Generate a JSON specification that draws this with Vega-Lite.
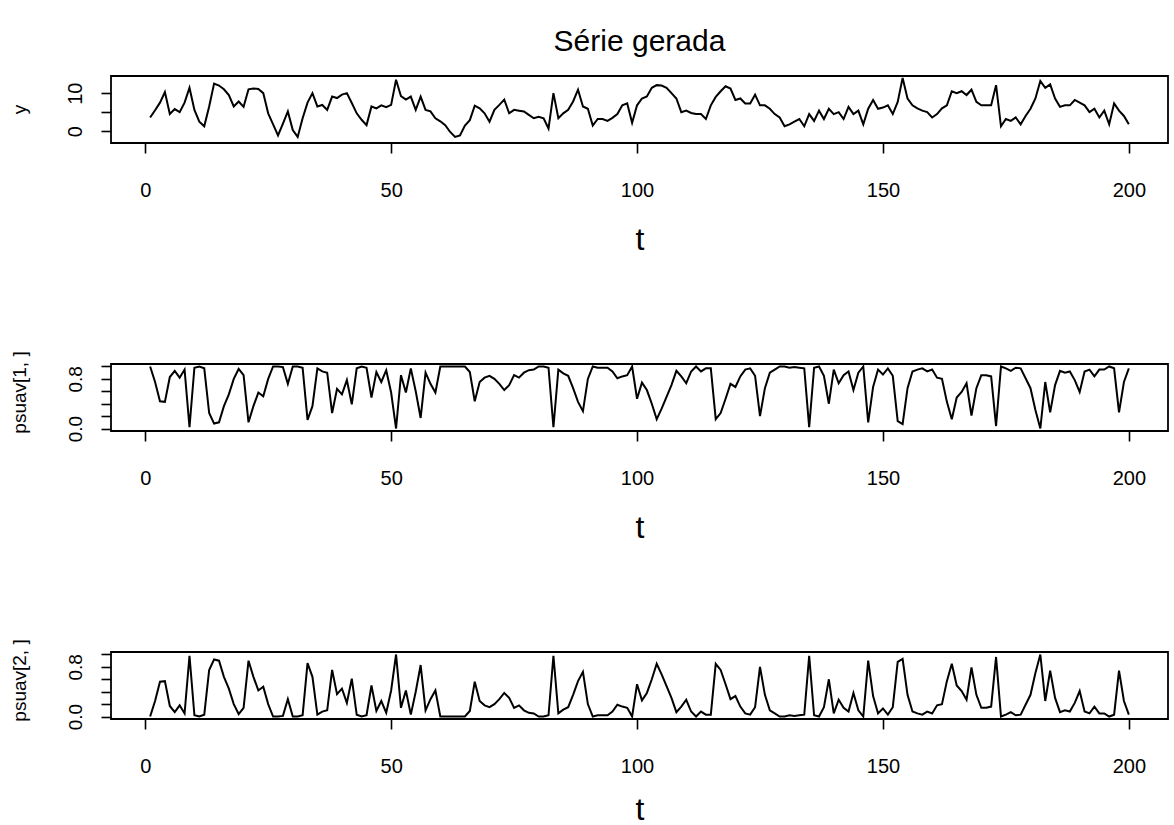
{
"$schema": "https://vega.github.io/schema/vega-lite/v6.json",
"padding": {"left": 9, "top": 27, "right": 6, "bottom": 3},
"background": "white",
"title": {"text": "Série gerada", "font": "Liberation Sans", "fontSize": 30, "fontWeight": "normal", "color": "black", "anchor": "middle", "frame": "group", "offset": 16},
"spacing": 221,
"bounds": "flush",
"config": {
  "view": {"stroke": "black", "strokeWidth": 1.8},
  "axis": {"domain": false, "grid": false, "tickColor": "black", "tickWidth": 1.6, "tickSize": 10, "labelColor": "black", "titleColor": "black", "labelFont": "Liberation Sans", "titleFont": "Liberation Sans", "titleFontWeight": "normal", "labelOverlap": false, "labelFlush": false, "labelBound": false},
  "line": {"color": "black", "strokeWidth": 2}
},
"data": {"values": [
{"t":1,"y":3.6,"p1":1.00,"p2":0.00},{"t":2,"y":5.5,"p1":0.75,"p2":0.25},{"t":3,"y":7.5,"p1":0.44,"p2":0.56},{"t":4,"y":10.3,"p1":0.43,"p2":0.57},{"t":5,"y":4.5,"p1":0.83,"p2":0.17},
{"t":6,"y":5.8,"p1":0.93,"p2":0.07},{"t":7,"y":5.0,"p1":0.82,"p2":0.18},{"t":8,"y":7.5,"p1":0.95,"p2":0.05},{"t":9,"y":11.4,"p1":0.02,"p2":0.98},{"t":10,"y":5.6,"p1":0.98,"p2":0.02},
{"t":11,"y":2.5,"p1":1.00,"p2":0.00},{"t":12,"y":1.3,"p1":0.97,"p2":0.03},{"t":13,"y":6.5,"p1":0.25,"p2":0.75},{"t":14,"y":12.5,"p1":0.08,"p2":0.92},{"t":15,"y":12.0,"p1":0.10,"p2":0.90},
{"t":16,"y":11.0,"p1":0.36,"p2":0.64},{"t":17,"y":9.5,"p1":0.55,"p2":0.45},{"t":18,"y":6.5,"p1":0.80,"p2":0.20},{"t":19,"y":7.8,"p1":0.96,"p2":0.04},{"t":20,"y":6.4,"p1":0.86,"p2":0.14},
{"t":21,"y":11.0,"p1":0.10,"p2":0.90},{"t":22,"y":11.2,"p1":0.36,"p2":0.64},{"t":23,"y":11.1,"p1":0.58,"p2":0.42},{"t":24,"y":10.0,"p1":0.52,"p2":0.48},{"t":25,"y":4.7,"p1":0.80,"p2":0.20},
{"t":26,"y":1.8,"p1":1.00,"p2":0.00},{"t":27,"y":-1.1,"p1":1.00,"p2":0.00},{"t":28,"y":2.0,"p1":0.99,"p2":0.01},{"t":29,"y":5.2,"p1":0.72,"p2":0.28},{"t":30,"y":0.3,"p1":1.00,"p2":0.00},
{"t":31,"y":-1.5,"p1":1.00,"p2":0.00},{"t":32,"y":3.4,"p1":0.98,"p2":0.02},{"t":33,"y":7.5,"p1":0.14,"p2":0.86},{"t":34,"y":10.0,"p1":0.36,"p2":0.64},{"t":35,"y":6.5,"p1":0.97,"p2":0.03},
{"t":36,"y":6.9,"p1":0.92,"p2":0.08},{"t":37,"y":5.6,"p1":0.90,"p2":0.10},{"t":38,"y":9.1,"p1":0.25,"p2":0.75},{"t":39,"y":8.7,"p1":0.64,"p2":0.36},{"t":40,"y":9.6,"p1":0.55,"p2":0.45},
{"t":41,"y":10.0,"p1":0.78,"p2":0.22},{"t":42,"y":7.4,"p1":0.39,"p2":0.61},{"t":43,"y":4.7,"p1":0.97,"p2":0.03},{"t":44,"y":3.0,"p1":1.00,"p2":0.00},{"t":45,"y":1.6,"p1":0.98,"p2":0.02},
{"t":46,"y":6.5,"p1":0.50,"p2":0.50},{"t":47,"y":6.0,"p1":0.91,"p2":0.09},{"t":48,"y":6.8,"p1":0.75,"p2":0.25},{"t":49,"y":6.3,"p1":0.94,"p2":0.06},{"t":50,"y":6.9,"p1":0.58,"p2":0.42},
{"t":51,"y":13.5,"p1":0.00,"p2":1.00},{"t":52,"y":9.2,"p1":0.86,"p2":0.14},{"t":53,"y":8.3,"p1":0.58,"p2":0.42},{"t":54,"y":9.1,"p1":0.97,"p2":0.03},{"t":55,"y":5.6,"p1":0.60,"p2":0.40},
{"t":56,"y":9.1,"p1":0.17,"p2":0.83},{"t":57,"y":5.6,"p1":0.90,"p2":0.10},{"t":58,"y":5.2,"p1":0.72,"p2":0.28},{"t":59,"y":3.4,"p1":0.58,"p2":0.42},{"t":60,"y":2.6,"p1":1.00,"p2":0.00},
{"t":61,"y":1.6,"p1":1.00,"p2":0.00},{"t":62,"y":-0.2,"p1":1.00,"p2":0.00},{"t":63,"y":-1.5,"p1":1.00,"p2":0.00},{"t":64,"y":-1.1,"p1":1.00,"p2":0.00},{"t":65,"y":1.5,"p1":1.00,"p2":0.00},
{"t":66,"y":2.9,"p1":0.91,"p2":0.09},{"t":67,"y":6.7,"p1":0.44,"p2":0.56},{"t":68,"y":6.0,"p1":0.75,"p2":0.25},{"t":69,"y":4.7,"p1":0.82,"p2":0.18},{"t":70,"y":2.5,"p1":0.85,"p2":0.15},
{"t":71,"y":5.6,"p1":0.80,"p2":0.20},{"t":72,"y":6.9,"p1":0.72,"p2":0.28},{"t":73,"y":8.3,"p1":0.62,"p2":0.38},{"t":74,"y":4.7,"p1":0.70,"p2":0.30},{"t":75,"y":5.6,"p1":0.86,"p2":0.14},
{"t":76,"y":5.4,"p1":0.82,"p2":0.18},{"t":77,"y":5.2,"p1":0.90,"p2":0.10},{"t":78,"y":4.3,"p1":0.94,"p2":0.06},{"t":79,"y":3.4,"p1":0.95,"p2":0.05},{"t":80,"y":3.8,"p1":1.00,"p2":0.00},
{"t":81,"y":3.4,"p1":1.00,"p2":0.00},{"t":82,"y":0.7,"p1":0.98,"p2":0.02},{"t":83,"y":10.0,"p1":0.02,"p2":0.98},{"t":84,"y":3.4,"p1":0.95,"p2":0.05},{"t":85,"y":4.7,"p1":0.89,"p2":0.11},
{"t":86,"y":5.6,"p1":0.85,"p2":0.15},{"t":87,"y":7.8,"p1":0.65,"p2":0.35},{"t":88,"y":10.9,"p1":0.43,"p2":0.57},{"t":89,"y":6.5,"p1":0.28,"p2":0.72},{"t":90,"y":5.9,"p1":0.80,"p2":0.20},
{"t":91,"y":1.5,"p1":1.00,"p2":0.00},{"t":92,"y":3.2,"p1":0.98,"p2":0.02},{"t":93,"y":3.2,"p1":0.98,"p2":0.02},{"t":94,"y":2.7,"p1":0.98,"p2":0.02},{"t":95,"y":3.5,"p1":0.92,"p2":0.08},
{"t":96,"y":4.5,"p1":0.81,"p2":0.19},{"t":97,"y":6.8,"p1":0.84,"p2":0.16},{"t":98,"y":7.3,"p1":0.86,"p2":0.14},{"t":99,"y":2.2,"p1":1.00,"p2":0.00},{"t":100,"y":6.8,"p1":0.48,"p2":0.52},
{"t":101,"y":8.6,"p1":0.74,"p2":0.26},{"t":102,"y":9.1,"p1":0.62,"p2":0.38},{"t":103,"y":11.4,"p1":0.40,"p2":0.60},{"t":104,"y":12.1,"p1":0.15,"p2":0.85},{"t":105,"y":12.0,"p1":0.32,"p2":0.68},
{"t":106,"y":11.4,"p1":0.51,"p2":0.49},{"t":107,"y":10.0,"p1":0.70,"p2":0.30},{"t":108,"y":8.6,"p1":0.93,"p2":0.07},{"t":109,"y":5.0,"p1":0.84,"p2":0.16},{"t":110,"y":5.4,"p1":0.73,"p2":0.27},
{"t":111,"y":4.8,"p1":0.92,"p2":0.08},{"t":112,"y":4.5,"p1":1.00,"p2":0.00},{"t":113,"y":4.5,"p1":0.92,"p2":0.08},{"t":114,"y":3.2,"p1":0.97,"p2":0.03},{"t":115,"y":6.8,"p1":0.97,"p2":0.03},
{"t":116,"y":9.0,"p1":0.15,"p2":0.85},{"t":117,"y":10.5,"p1":0.25,"p2":0.75},{"t":118,"y":11.8,"p1":0.48,"p2":0.52},{"t":119,"y":11.2,"p1":0.72,"p2":0.28},{"t":120,"y":8.2,"p1":0.67,"p2":0.33},
{"t":121,"y":8.6,"p1":0.84,"p2":0.16},{"t":122,"y":7.3,"p1":0.95,"p2":0.05},{"t":123,"y":7.3,"p1":0.97,"p2":0.03},{"t":124,"y":9.6,"p1":0.85,"p2":0.15},{"t":125,"y":6.8,"p1":0.20,"p2":0.80},
{"t":126,"y":6.8,"p1":0.65,"p2":0.35},{"t":127,"y":5.9,"p1":0.90,"p2":0.10},{"t":128,"y":4.5,"p1":0.95,"p2":0.05},{"t":129,"y":3.6,"p1":1.00,"p2":0.00},{"t":130,"y":1.3,"p1":1.00,"p2":0.00},
{"t":131,"y":1.8,"p1":0.98,"p2":0.02},{"t":132,"y":2.5,"p1":0.99,"p2":0.01},{"t":133,"y":3.2,"p1":0.98,"p2":0.02},{"t":134,"y":1.3,"p1":0.97,"p2":0.03},{"t":135,"y":4.5,"p1":0.02,"p2":0.98},
{"t":136,"y":2.7,"p1":0.98,"p2":0.02},{"t":137,"y":5.4,"p1":1.00,"p2":0.00},{"t":138,"y":3.2,"p1":0.85,"p2":0.15},{"t":139,"y":5.9,"p1":0.40,"p2":0.60},{"t":140,"y":4.5,"p1":0.95,"p2":0.05},
{"t":141,"y":5.0,"p1":0.73,"p2":0.27},{"t":142,"y":3.2,"p1":0.86,"p2":0.14},{"t":143,"y":6.4,"p1":0.92,"p2":0.08},{"t":144,"y":4.5,"p1":0.62,"p2":0.38},{"t":145,"y":5.4,"p1":0.90,"p2":0.10},
{"t":146,"y":1.8,"p1":1.00,"p2":0.00},{"t":147,"y":5.9,"p1":0.10,"p2":0.90},{"t":148,"y":8.2,"p1":0.67,"p2":0.33},{"t":149,"y":5.9,"p1":0.95,"p2":0.05},{"t":150,"y":6.2,"p1":0.87,"p2":0.13},
{"t":151,"y":6.8,"p1":0.97,"p2":0.03},{"t":152,"y":4.5,"p1":0.85,"p2":0.15},{"t":153,"y":7.7,"p1":0.12,"p2":0.88},{"t":154,"y":14.0,"p1":0.07,"p2":0.93},{"t":155,"y":8.6,"p1":0.65,"p2":0.35},
{"t":156,"y":6.8,"p1":0.92,"p2":0.08},{"t":157,"y":6.0,"p1":0.95,"p2":0.05},{"t":158,"y":5.4,"p1":0.97,"p2":0.03},{"t":159,"y":5.0,"p1":0.92,"p2":0.08},{"t":160,"y":3.6,"p1":0.95,"p2":0.05},
{"t":161,"y":4.5,"p1":0.82,"p2":0.18},{"t":162,"y":6.0,"p1":0.80,"p2":0.20},{"t":163,"y":6.8,"p1":0.43,"p2":0.57},{"t":164,"y":10.5,"p1":0.15,"p2":0.85},{"t":165,"y":10.0,"p1":0.50,"p2":0.50},
{"t":166,"y":10.5,"p1":0.59,"p2":0.41},{"t":167,"y":9.5,"p1":0.73,"p2":0.27},{"t":168,"y":10.9,"p1":0.21,"p2":0.79},{"t":169,"y":7.7,"p1":0.65,"p2":0.35},{"t":170,"y":6.8,"p1":0.86,"p2":0.14},
{"t":171,"y":6.8,"p1":0.86,"p2":0.14},{"t":172,"y":6.8,"p1":0.84,"p2":0.16},{"t":173,"y":12.1,"p1":0.04,"p2":0.96},{"t":174,"y":1.3,"p1":1.00,"p2":0.00},{"t":175,"y":3.2,"p1":0.97,"p2":0.03},
{"t":176,"y":2.7,"p1":0.93,"p2":0.07},{"t":177,"y":3.6,"p1":0.98,"p2":0.02},{"t":178,"y":1.8,"p1":0.97,"p2":0.03},{"t":179,"y":4.0,"p1":0.81,"p2":0.19},{"t":180,"y":5.9,"p1":0.65,"p2":0.35},
{"t":181,"y":8.6,"p1":0.30,"p2":0.70},{"t":182,"y":13.2,"p1":0.00,"p2":1.00},{"t":183,"y":11.4,"p1":0.75,"p2":0.25},{"t":184,"y":12.3,"p1":0.26,"p2":0.74},{"t":185,"y":8.6,"p1":0.70,"p2":0.30},
{"t":186,"y":6.4,"p1":0.93,"p2":0.07},{"t":187,"y":6.8,"p1":0.90,"p2":0.10},{"t":188,"y":6.8,"p1":0.92,"p2":0.08},{"t":189,"y":8.2,"p1":0.78,"p2":0.22},{"t":190,"y":7.5,"p1":0.59,"p2":0.41},
{"t":191,"y":6.8,"p1":0.92,"p2":0.08},{"t":192,"y":5.0,"p1":0.95,"p2":0.05},{"t":193,"y":5.9,"p1":0.84,"p2":0.16},{"t":194,"y":3.6,"p1":0.95,"p2":0.05},{"t":195,"y":5.4,"p1":0.95,"p2":0.05},
{"t":196,"y":1.8,"p1":1.00,"p2":0.00},{"t":197,"y":7.3,"p1":0.97,"p2":0.03},{"t":198,"y":5.4,"p1":0.26,"p2":0.74},{"t":199,"y":4.0,"p1":0.75,"p2":0.25},{"t":200,"y":1.8,"p1":0.97,"p2":0.03}
]},
"vconcat": [
 {"width": 1057, "height": 67, "mark": {"type": "line"},
  "encoding": {
   "x": {"field": "t", "type": "quantitative", "scale": {"domain": [-6.96, 207.96], "nice": false, "zero": false}, "axis": {"values": [0, 50, 100, 150, 200], "format": "d", "title": "t", "labelFontSize": 20, "labelPadding": 27, "titleFontSize": 32, "titlePadding": 24}},
   "y": {"field": "y", "type": "quantitative", "scale": {"domain": [-3.1, 14.5], "nice": false, "zero": false}, "axis": {"values": [0, 5, 10], "labelExpr": "datum.value == 5 ? '' : datum.label", "title": "y", "labelFontSize": 20, "labelAngle": -90, "labelAlign": "center", "labelBaseline": "alphabetic", "labelPadding": 20, "titleFontSize": 19, "titleAngle": -90, "titleAlign": "center", "titleBaseline": "alphabetic", "titleX": -86, "titleY": 33}}
  }},
 {"width": 1057, "height": 67, "mark": {"type": "line"},
  "encoding": {
   "x": {"field": "t", "type": "quantitative", "scale": {"domain": [-6.96, 207.96], "nice": false, "zero": false}, "axis": {"values": [0, 50, 100, 150, 200], "format": "d", "title": "t", "labelFontSize": 20, "labelPadding": 27, "titleFontSize": 32, "titlePadding": 24}},
   "y": {"field": "p1", "type": "quantitative", "scale": {"domain": [-0.04, 1.04], "nice": false, "zero": false}, "axis": {"values": [0, 0.2, 0.4, 0.6, 0.8, 1.0], "format": ".1f", "labelExpr": "(datum.value == 0 || datum.value == 0.8) ? datum.label : ''", "title": "psuav[1, ]", "labelFontSize": 19, "labelAngle": -90, "labelAlign": "center", "labelBaseline": "alphabetic", "labelPadding": 20, "titleFontSize": 19, "titleAngle": -90, "titleAlign": "center", "titleBaseline": "alphabetic", "titleX": -86, "titleY": 28}}
  }},
 {"width": 1057, "height": 67, "mark": {"type": "line"},
  "encoding": {
   "x": {"field": "t", "type": "quantitative", "scale": {"domain": [-6.96, 207.96], "nice": false, "zero": false}, "axis": {"values": [0, 50, 100, 150, 200], "format": "d", "title": "t", "labelFontSize": 20, "labelPadding": 27, "titleFontSize": 32, "titlePadding": 18}},
   "y": {"field": "p2", "type": "quantitative", "scale": {"domain": [-0.04, 1.04], "nice": false, "zero": false}, "axis": {"values": [0, 0.2, 0.4, 0.6, 0.8, 1.0], "format": ".1f", "labelExpr": "(datum.value == 0 || datum.value == 0.8) ? datum.label : ''", "title": "psuav[2, ]", "labelFontSize": 19, "labelAngle": -90, "labelAlign": "center", "labelBaseline": "alphabetic", "labelPadding": 20, "titleFontSize": 19, "titleAngle": -90, "titleAlign": "center", "titleBaseline": "alphabetic", "titleX": -86, "titleY": 28}}
  }}
]
}
